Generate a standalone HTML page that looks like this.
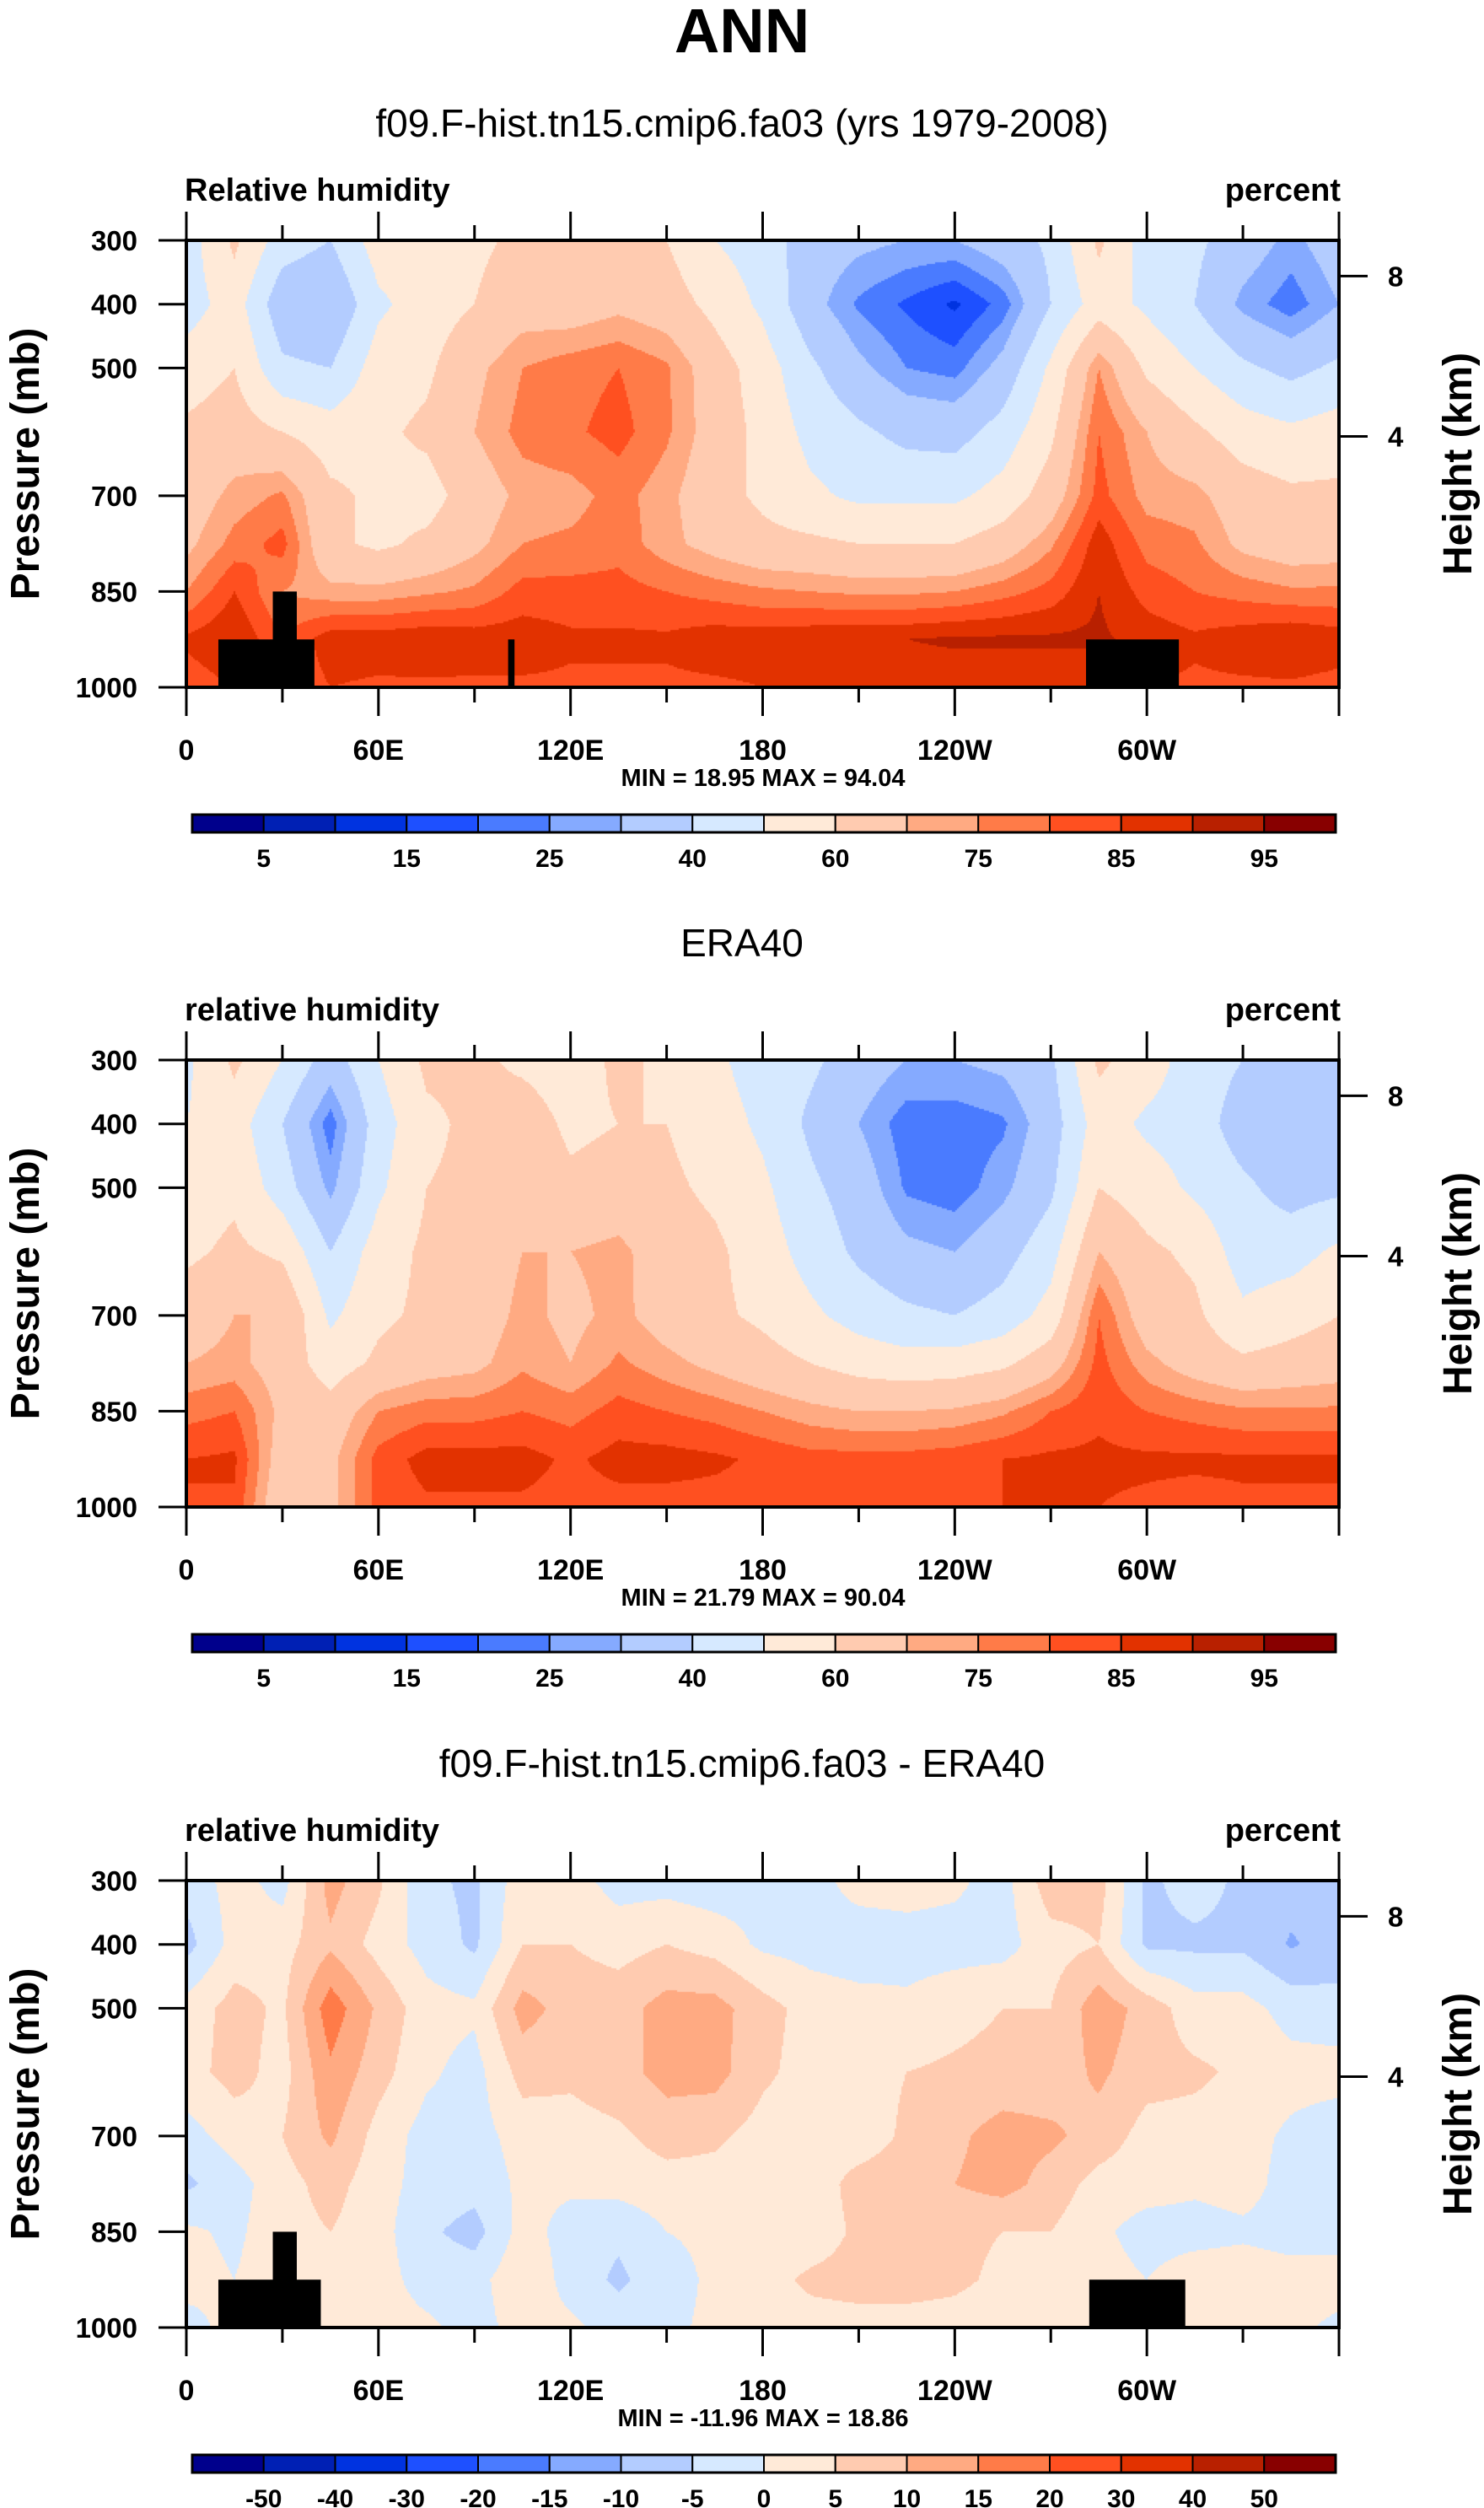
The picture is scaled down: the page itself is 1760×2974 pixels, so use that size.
<!DOCTYPE html>
<html><head><meta charset="utf-8">
<style>
body{margin:0;background:#fff;}
#wrap{position:relative;width:1760px;height:2974px;overflow:hidden;font-family:"Liberation Sans",sans-serif;}
canvas{position:absolute;}
svg{position:absolute;left:0;top:0;}
</style></head>
<body>
<div id="wrap">
<canvas id="c0"></canvas>
<canvas id="c1"></canvas>
<canvas id="c2"></canvas>
<svg id="s" width="1760" height="2974"></svg>
</div>
<script>
// ---- data ----
const lons = [0,15,30,45,60,75,90,105,120,135,150,165,180,195,210,225,240,255,270,285,300,315,330,345,360];
const plevs = [300,400,500,600,700,775,850,925,1000];
// each row: one longitude column, values at plevs
const rhModel = [
[45,45,55,62,65,68,75,86,82],[62,55,60,65,72,77,85,90,85],[45,33,42,60,76,82,75,80,80],
[40,30,40,55,62,62,72,88,85],[55,48,55,58,58,58,72,88,84],[55,55,58,62,56,62,74,89,84],
[58,60,68,70,65,68,76,88,84],[62,66,75,77,72,75,82,88,84],[62,65,78,79,73,76,82,86,84],
[62,68,80,82,77,78,82,86,84],[60,65,76,76,72,72,80,86,84],[50,57,65,66,64,67,78,88,84],
[45,48,55,57,58,63,76,88,85],[35,33,42,47,52,62,75,89,85],[32,24,32,42,48,60,74,90,86],
[30,19,25,37,48,60,74,90,86],[30,14,23,36,48,60,75,91,86],[35,22,33,44,54,65,78,91,86],
[42,40,52,58,65,74,82,91,86],[62,55,75,80,82,88,90,91,86],[45,48,58,70,73,78,83,88,85],
[42,40,50,62,72,76,80,86,84],[35,28,42,55,65,68,78,88,84],[28,22,37,52,62,65,76,90,84],
[35,30,42,55,62,66,76,88,83]];
const rhEra = [
[48,50,55,58,65,70,78,85,85],[62,55,58,62,70,72,80,86,84],[50,40,45,58,70,66,68,65,62],
[35,22,28,40,48,55,64,68,68],[50,45,48,55,58,62,75,82,82],[62,58,60,62,62,66,78,87,84],
[62,62,62,64,65,68,78,87,84],[58,65,68,70,72,74,80,87,84],[55,58,62,70,68,70,78,84,83],
[62,60,64,72,72,76,82,87,83],[58,60,62,65,66,72,80,87,83],[52,55,58,62,62,68,78,86,83],
[45,48,52,55,58,64,75,84,83],[42,38,42,46,52,60,72,82,83],[35,30,35,38,46,56,70,82,82],
[30,22,24,32,42,54,70,82,82],[30,22,22,30,40,55,71,83,83],[32,24,28,36,44,58,74,85,85],
[38,35,38,46,54,66,80,86,86],[62,55,60,70,80,82,84,86,85],[55,48,55,62,65,72,80,86,84],
[45,45,48,58,62,66,78,86,83],[40,35,42,45,52,62,76,86,84],[35,32,36,46,56,64,76,86,84],
[35,32,38,52,60,66,76,86,84]];
const rhDiff = [
[-3,-7,2,3,-2,-6,1,2,-2],[2,2,7,7,2,-2,-1,0,2],[-2,3,4,3,5,3,3,3,3],
[12,9,18,14,11,7,5,5,4],[6,3,9,7,3,2,2,2,2],[-4,-2,2,1,-2,-2,-4,-2,1],
[-6,-6,1,-2,-2,-3,-7,-2,-2],[3,5,12,7,2,1,2,4,2],[2,5,8,6,3,1,-2,-2,1],
[-2,3,8,8,4,2,-4,-6,-2],[-2,5,12,12,7,3,0,-2,-1],[-3,3,12,12,6,3,1,1,1],
[-2,-1,7,6,3,2,2,3,2],[-2,-2,3,3,2,2,2,6,3],[2,-3,2,3,2,7,6,7,3],
[2,-2,1,5,6,8,6,7,3],[1,-2,3,6,9,10,6,6,3],[-2,-2,5,7,12,12,5,4,2],
[8,3,5,7,11,8,5,3,2],[7,5,13,11,8,3,1,2,2],[-6,-6,8,7,3,2,-2,0,2],
[-3,-6,2,6,3,1,-2,3,2],[-6,-6,2,4,2,2,-1,3,2],[-8,-10.5,-2,2,-1,-2,-2,2,1],
[-8,-8,-3,2,-3,-4,-2,2,-1]];
const rhLevels = [5,10,15,20,25,30,40,50,60,70,75,80,85,90,95];
const diffLevels = [-50,-40,-30,-20,-15,-10,-5,0,5,10,15,20,30,40,50];
const rhTickLabels = ["5","15","25","40","60","75","85","95"];
const diffTickLabels = ["-50","-40","-30","-20","-15","-10","-5","0","5","10","15","20","30","40","50"];
const lonTickLabels = ["0","60E","120E","180","120W","60W"];
const presTicks = [300,400,500,700,850,1000];
const heightTicks = [8,4];
const heightTickP = [356,607];
// land masks [lon0, lon1, ptop]
const land1 = [[10,40,925],[27,34.5,850],[100.5,102.5,925],[281,310,925]];
const land3 = [[10,42,925],[27,34.5,850],[282,312,925]];
const colors = ["#00008C","#0020B4","#0033E0","#1E50FF","#4A7BFF","#85AAFF","#B3CCFF","#D6E9FF","#FFEAD8","#FFCBB0","#FFAA82","#FF7B48","#FF5020","#E23200","#B82000","#880000"];

// ---- layout ----
const X0=221, X1=1588;
const panels=[
 {top:285, data:rhModel, lev:rhLevels, labels:rhTickLabels, sub:"f09.F-hist.tn15.cmip6.fa03 (yrs 1979-2008)", left:"Relative humidity", minmax:"MIN =  18.95  MAX =  94.04", land:land1},
 {top:1257, data:rhEra, lev:rhLevels, labels:rhTickLabels, sub:"ERA40", left:"relative humidity", minmax:"MIN =  21.79  MAX =  90.04", land:[]},
 {top:2230, data:rhDiff, lev:diffLevels, labels:diffTickLabels, sub:"f09.F-hist.tn15.cmip6.fa03 - ERA40", left:"relative humidity", minmax:"MIN = -11.96  MAX =  18.86", land:land3}
];
const PH=530;
const xOf = lon => X0 + lon/360*(X1-X0);
const yOf = (p,top) => top + (p-300)/700*PH;

function sample(data,lon,p){
  let i=Math.min(lons.length-2,Math.floor(lon/15)); let fx=(lon-lons[i])/15;
  let j=0; while(j<plevs.length-2 && p>plevs[j+1]) j++;
  let fy=(p-plevs[j])/(plevs[j+1]-plevs[j]);
  const a=data[i][j],b=data[i+1][j],c=data[i][j+1],d=data[i+1][j+1];
  return (a*(1-fx)+b*fx)*(1-fy)+(c*(1-fx)+d*fx)*fy;
}
function cls(v,lev){let k=0;while(k<lev.length&&v>=lev[k])k++;return k;}

const S=document.getElementById('s');
const NS="http://www.w3.org/2000/svg";
function el(tag,attrs,parent,txt){const e=document.createElementNS(NS,tag);for(const k in attrs)e.setAttribute(k,attrs[k]);if(txt!==undefined)e.textContent=txt;(parent||S).appendChild(e);return e;}

const title=el('text',{x:880,y:62,'text-anchor':'middle','font-size':74,'font-weight':'bold'},S,"ANN");



panels.forEach((P,pi)=>{
  const top=P.top, W=X1-X0;
  const cv=document.getElementById('c'+pi);
  cv.width=W; cv.height=PH; cv.style.left=X0+'px'; cv.style.top=top+'px';
  const ctx=cv.getContext('2d');
  const st=2;
  for(let y=0;y<PH;y+=st){
    const p=300+(y+st/2)/PH*700;
    for(let x=0;x<W;x+=st){
      const lon=(x+st/2)/W*360;
      ctx.fillStyle=colors[cls(sample(P.data,lon,p),P.lev)];
      ctx.fillRect(x,y,st,st);
    }
  }
  const off=top-285;
  const g=el('g',{});
  
  
  P.land.forEach(L=>{
    const r=el('rect',{x:xOf(L[0]),y:yOf(L[2],top),width:xOf(L[1])-xOf(L[0]),height:top+PH-yOf(L[2],top),fill:'#000'},g);
    
    
  });
  const fr=el('rect',{x:X0,y:top,width:W,height:PH,fill:'none',stroke:'#000','stroke-width':4},g);
  
  
  for(let lon=0;lon<=360;lon+=30){
    const major=lon%60===0, x=xOf(lon), L=major?34:18;
    el('line',{x1:x,x2:x,y1:top,y2:top-L,stroke:'#000','stroke-width':3},g);
    el('line',{x1:x,x2:x,y1:top+PH,y2:top+PH+L,stroke:'#000','stroke-width':3},g);
  }
  lonTickLabels.forEach((t,k)=>{
    const tx=el('text',{x:xOf(k*60),y:top+PH+86,'text-anchor':'middle','font-size':34,'font-weight':'bold'},g,t);
    
    
  });
  presTicks.forEach(p=>{
    const y=yOf(p,top);
    el('line',{x1:X0-33,x2:X0,y1:y,y2:y,stroke:'#000','stroke-width':3},g);
    const tx=el('text',{x:163,y:y+12,'text-anchor':'end','font-size':33,'font-weight':'bold'},g,String(p));
    
    
  });
  heightTicks.forEach((h,k)=>{
    const y=yOf(heightTickP[k],top);
    el('line',{x1:X1,x2:X1+34,y1:y,y2:y,stroke:'#000','stroke-width':3},g);
    const tx=el('text',{x:1646,y:y+12,'font-size':33,'font-weight':'bold'},g,String(h));
    
    
  });
  const yt=el('text',{x:0,y:0,transform:`translate(46,${top+265}) rotate(-90)`,'text-anchor':'middle','font-size':48,'font-weight':'bold'},g,"Pressure (mb)");
  
  
  const yt2=el('text',{x:0,y:0,transform:`translate(1745,${top+265}) rotate(-90)`,'text-anchor':'middle','font-size':48,'font-weight':'bold'},g,"Height (km)");
  
  
  const sub=el('text',{x:880,y:off+162,'text-anchor':'middle','font-size':46},g,P.sub);
  
  
  const lt=el('text',{x:219,y:off+238,'font-size':38,'font-weight':'bold'},g,P.left);
  
  
  const rt=el('text',{x:1590,y:off+238,'text-anchor':'end','font-size':38,'font-weight':'bold'},g,"percent");
  
  
  const mm=el('text',{x:905,y:off+932,'text-anchor':'middle','font-size':29,'font-weight':'bold'},g,P.minmax);
  
  
  const cb0=228, cb1=1584, cbW=(cb1-cb0)/16, cy=off+966, ch=21;
  for(let k=0;k<16;k++){
    const r=el('rect',{x:cb0+k*cbW,y:cy,width:cbW,height:ch,fill:colors[k],stroke:'#000','stroke-width':2},g);
    
    
  }
  el('rect',{x:cb0,y:cy,width:cb1-cb0,height:ch,fill:'none',stroke:'#000','stroke-width':3},g);
  const step = P.labels.length===8 ? 2 : 1;
  P.labels.forEach((t,k)=>{
    const tx=el('text',{x:cb0+(k*step+1)*cbW,y:cy+62,'text-anchor':'middle','font-size':30,'font-weight':'bold'},g,t);
    
    
  });
});
</script>
</body></html>
